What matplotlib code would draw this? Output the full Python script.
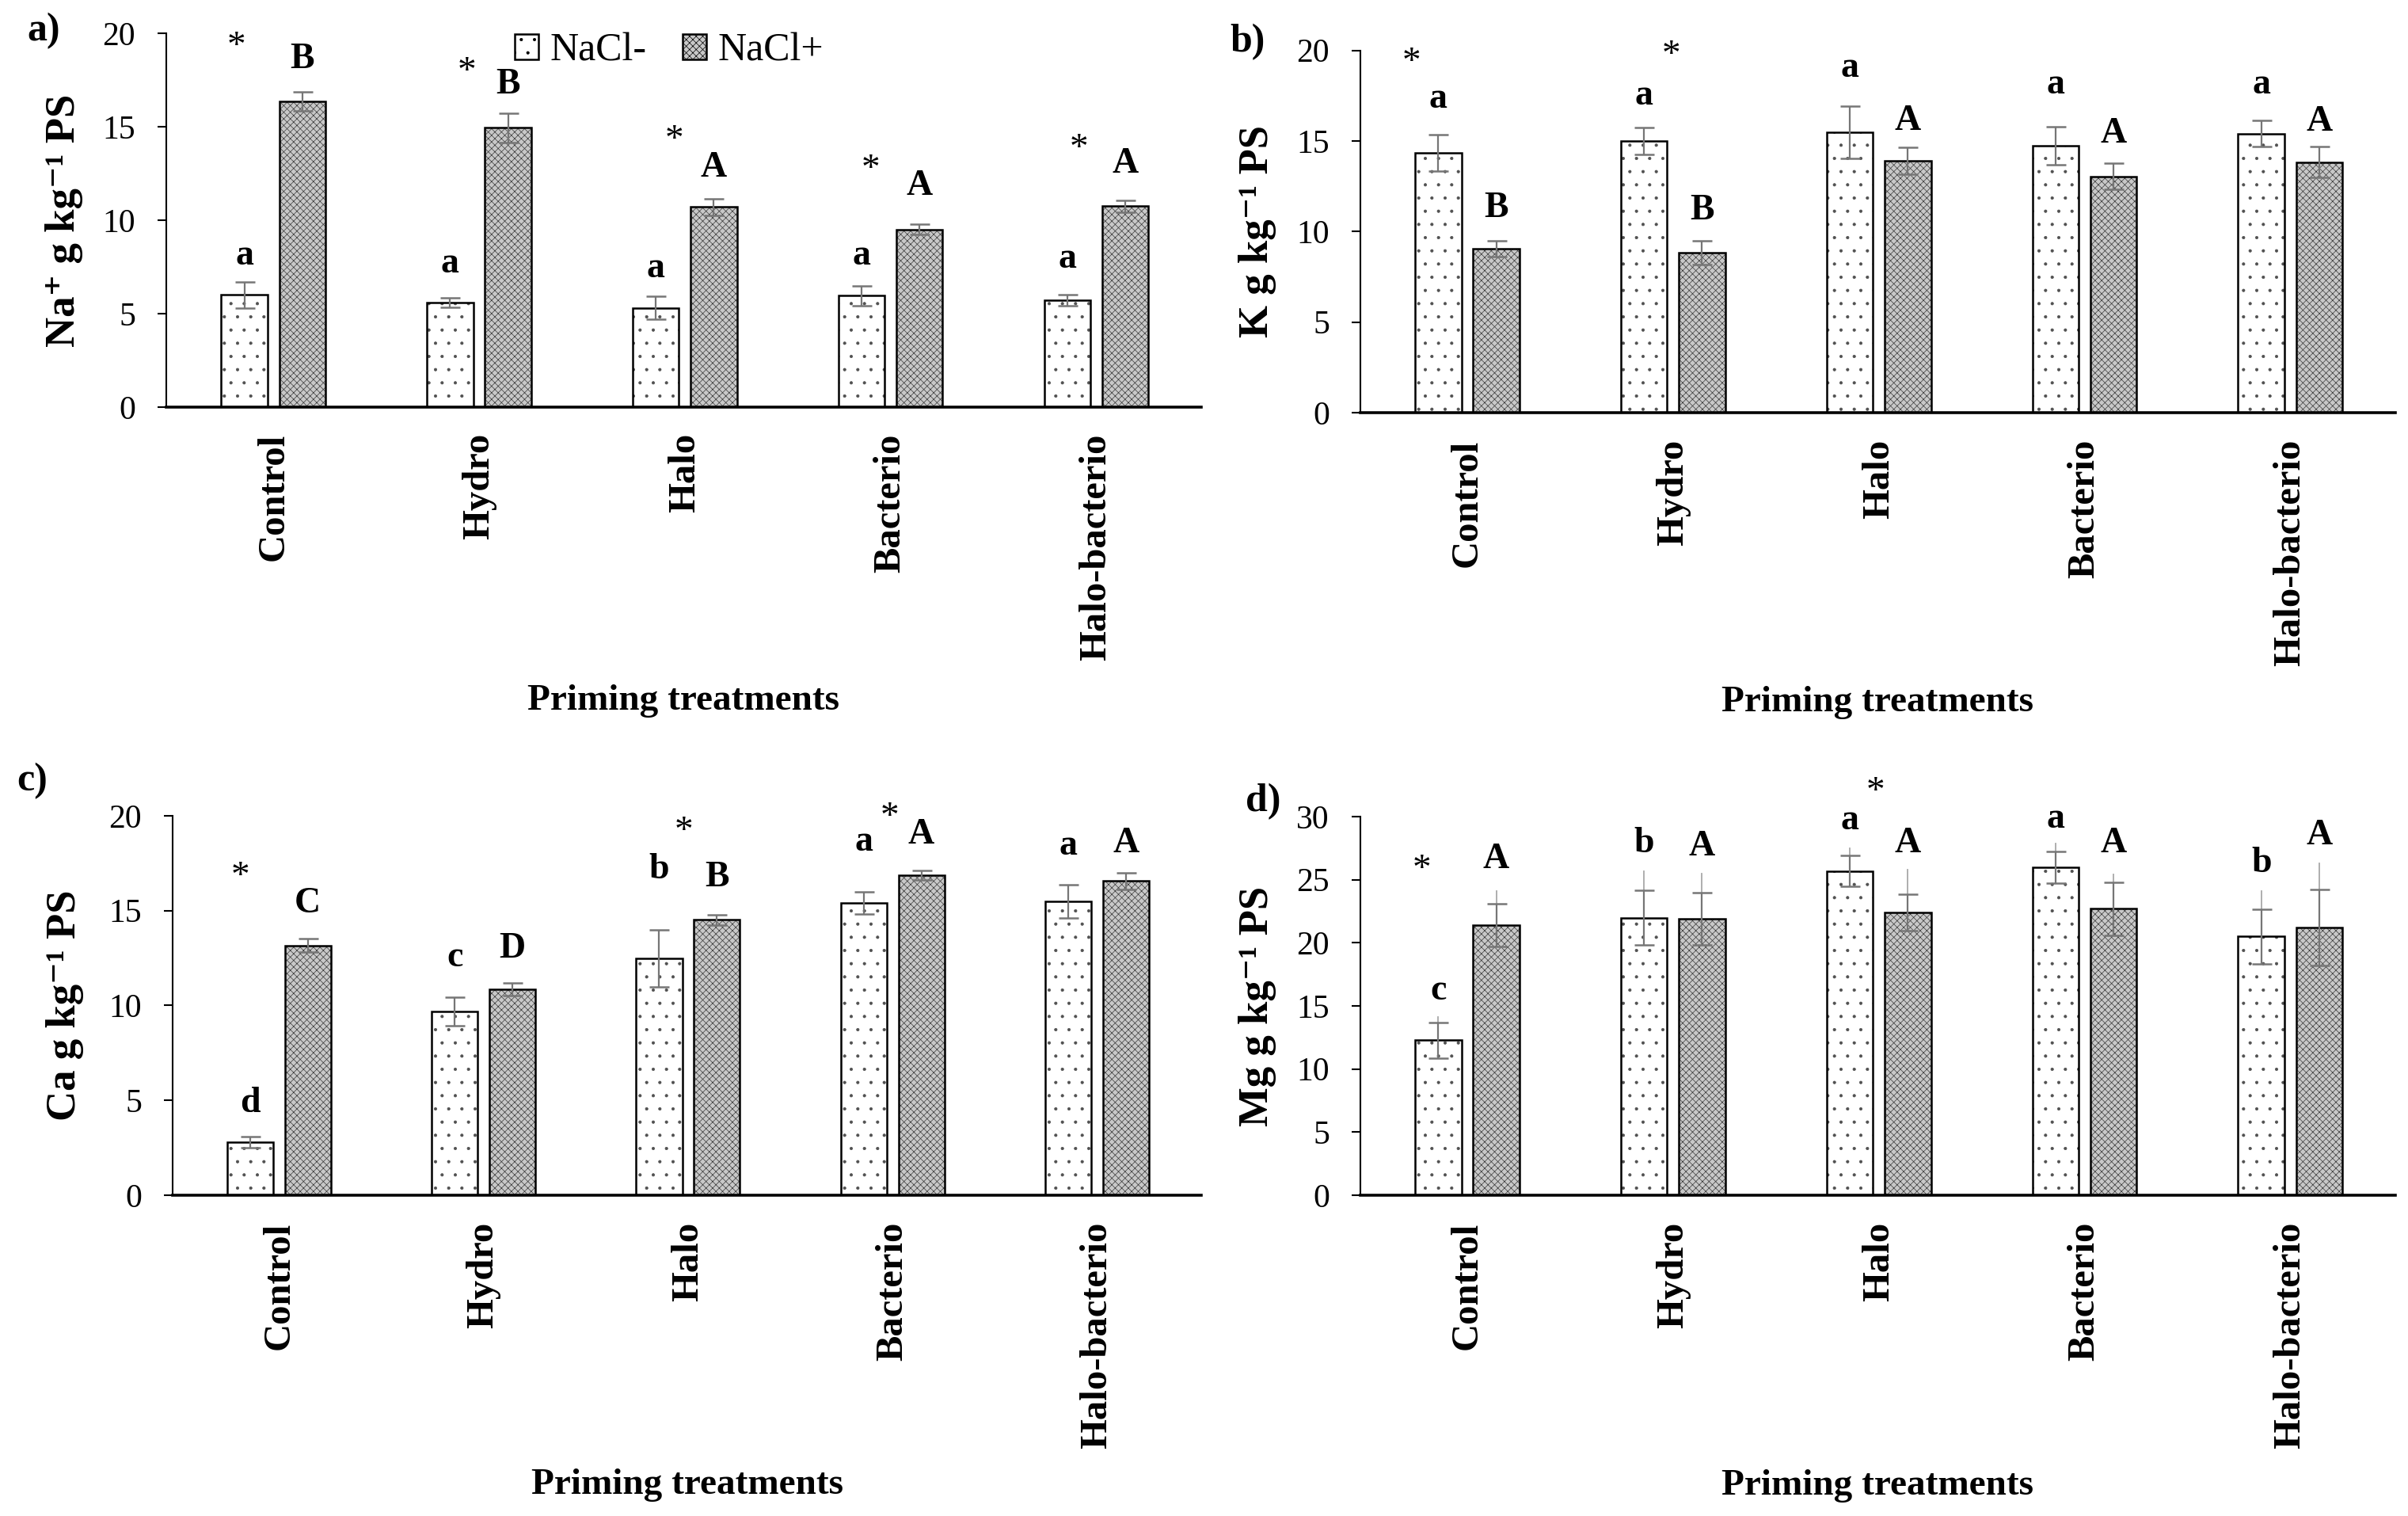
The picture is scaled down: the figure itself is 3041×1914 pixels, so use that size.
import numpy as np
import matplotlib.pyplot as plt
from matplotlib.patches import Patch

plt.rcParams['font.family'] = ['Liberation Serif', 'DejaVu Serif']
plt.rcParams['hatch.linewidth'] = 0.5

treatments = ['Control', 'Hydro', 'Halo', 'Bacterio', 'Halo-bacterio']

# a) Na+
na_minus = [6.0, 5.6, 5.3, 5.95, 5.72]
na_minus_err = [0.7, 0.26, 0.62, 0.53, 0.28]
na_plus = [16.36, 14.95, 10.7, 9.5, 10.74]
na_plus_err = [0.52, 0.78, 0.44, 0.28, 0.3]
na_minus_let = ['a', 'a', 'a', 'a', 'a']
na_plus_let = ['B', 'B', 'A', 'A', 'A']
na_minus_let_y = [8.1, 7.65, 7.4, 8.1, 7.9]
na_plus_let_y = [18.6, 17.25, 12.8, 11.8, 13.0]
na_star_x = [-0.18, -0.06, -0.05, -0.096, -0.085]
na_star_y = [19.67, 18.3, 14.67, 13.1, 14.2]

# b) K
k_minus = [14.34, 15.0, 15.48, 14.73, 15.4]
k_minus_err = [1.0, 0.74, 1.44, 1.05, 0.73]
k_plus = [9.06, 8.83, 13.9, 13.05, 13.83]
k_plus_err = [0.43, 0.64, 0.73, 0.72, 0.84]
k_minus_let = ['a', 'a', 'a', 'a', 'a']
k_plus_let = ['B', 'B', 'A', 'A', 'A']
k_minus_let_y = [17.3, 17.5, 19.0, 18.1, 18.1]
k_plus_let_y = [11.3, 11.14, 16.1, 15.4, 16.06]
k_star_x = [-0.27, -0.01, None, None, None]
k_star_y = [19.7, 20.1, None, None, None]

# c) Ca
ca_minus = [2.79, 9.67, 12.48, 15.4, 15.48]
ca_minus_err = [0.3, 0.75, 1.5, 0.58, 0.88]
ca_plus = [13.17, 10.84, 14.52, 16.87, 16.56]
ca_plus_err = [0.35, 0.34, 0.27, 0.26, 0.43]
ca_minus_let = ['d', 'c', 'b', 'a', 'a']
ca_plus_let = ['C', 'D', 'B', 'A', 'A']
ca_minus_let_y = [4.85, 12.54, 17.15, 18.6, 18.4]
ca_plus_let_y = [15.37, 12.97, 16.76, 19.0, 18.55]
ca_star_x = [-0.19, None, -0.02, -0.015, None]
ca_star_y = [17.15, None, 19.55, 20.3, None]

# d) Mg
mg_minus = [12.28, 22.0, 25.7, 26.0, 20.5]
mg_minus_err = [1.4, 2.15, 1.2, 1.25, 2.15]
mg_minus_top = [14.1, 25.65, 27.5, 27.9, 24.1]
mg_plus = [21.4, 21.9, 22.4, 22.7, 21.2]
mg_plus_err = [1.7, 2.05, 1.45, 2.1, 3.0]
mg_plus_top = [24.1, 25.5, 25.8, 25.4, 26.3]
mg_minus_let = ['c', 'b', 'a', 'a', 'b']
mg_plus_let = ['A', 'A', 'A', 'A', 'A']
mg_minus_let_y = [16.2, 27.9, 29.7, 29.8, 26.3]
mg_plus_let_y = [26.6, 27.6, 27.9, 27.9, 28.5]
mg_star_x = [-0.22, None, -0.015, None, None]
mg_star_y = [26.35, None, 32.5, None, None]

fig = plt.figure(figsize=(30.41, 19.14), dpi=100)

x = np.arange(len(treatments))
w = 0.225
off = 0.141
err_color = '#767676'


def draw_panel(rect, minus, minus_err, plus, plus_err, minus_let, plus_let,
               minus_let_y, plus_let_y, star_x, star_y, ylabel, ymax,
               label_x, xlabel_y, minus_top=None, plus_top=None):
    ax = fig.add_axes(rect)
    # fill + hatch first (hatch colour follows edgecolor), then black outline
    ax.bar(x - off, minus, w, color='white', edgecolor='#505050',
           linewidth=0, hatch='.', zorder=2)
    ax.bar(x + off, plus, w, color='#c8c8c8', edgecolor='#383838',
           linewidth=0, hatch='xxxx', zorder=2)
    ax.bar(x - off, minus, w, fill=False, edgecolor='black', linewidth=1.8, zorder=2.5)
    ax.bar(x + off, plus, w, fill=False, edgecolor='black', linewidth=1.8, zorder=2.5)
    if minus_top is not None:
        # lighter extended whiskers in panel d
        for xs, v, e, t in zip(x - off, minus, minus_err, minus_top):
            ax.plot([xs, xs], [v - e, t], color='#a8a8a8', lw=1.3, zorder=3)
        for xs, v, e, t in zip(x + off, plus, plus_err, plus_top):
            ax.plot([xs, xs], [v - e, t], color='#a8a8a8', lw=1.3, zorder=3)
    ax.errorbar(x - off, minus, yerr=minus_err, fmt='none', ecolor=err_color,
                elinewidth=1.6, capsize=9, capthick=1.8, zorder=4)
    ax.errorbar(x + off, plus, yerr=plus_err, fmt='none', ecolor=err_color,
                elinewidth=1.6, capsize=9, capthick=1.8, zorder=4)

    for i in range(len(treatments)):
        ax.text(x[i] - off, minus_let_y[i], minus_let[i], ha='center',
                va='center', fontsize=33, fontweight='bold')
        ax.text(x[i] + off, plus_let_y[i], plus_let[i], ha='center',
                va='center', fontsize=33, fontweight='bold')
        if star_x[i] is not None:
            ax.annotate('*', (x[i] + star_x[i], star_y[i]), xytext=(0, -7),
                        textcoords='offset points', ha='center', va='center',
                        fontsize=34, annotation_clip=False)

    ax.set_xlim(-0.52, 4.51)
    ax.set_ylim(0, ymax)
    ax.set_yticks(np.arange(0, ymax + 1, 5))
    ax.set_xticks(x, treatments, rotation=90, fontsize=35, fontweight='bold',
                  va='top')
    ax.tick_params(axis='x', length=0, pad=24)
    ax.tick_params(axis='y', labelsize=30, length=8, width=1.5, pad=20)
    for s in ['top', 'right']:
        ax.spines[s].set_visible(False)
    ax.spines['bottom'].set_linewidth(2.6)
    ax.spines['left'].set_linewidth(1.5)

    ax.set_ylabel(ylabel, fontsize=38, fontweight='bold', va='center')
    ax.yaxis.set_label_coords(label_x, 0.5)
    ax.set_xlabel('Priming treatments', fontsize=34, fontweight='bold',
                  va='center')
    ax.xaxis.set_label_coords(0.5, xlabel_y)
    return ax


ax_a = draw_panel([0.0691, 0.7315, 0.4297, 0.2466], na_minus, na_minus_err,
                  na_plus, na_plus_err, na_minus_let, na_plus_let,
                  na_minus_let_y, na_plus_let_y, na_star_x, na_star_y,
                  'Na⁺ g kg⁻¹ PS', 20, -0.099, -0.786)
handles = [Patch(facecolor='white', edgecolor='black', linewidth=1.8, hatch='.'),
           Patch(facecolor='#c8c8c8', edgecolor='black', linewidth=1.8, hatch='xxxx')]
ax_a.legend(handles, ['NaCl-', 'NaCl+'], loc='center',
            bbox_to_anchor=(0.486, 0.953), ncol=2, frameon=False, fontsize=36,
            handlelength=0.6, handleheight=0.6, handletextpad=0.3,
            columnspacing=0.9)

draw_panel([0.5649, 0.7278, 0.4298, 0.2390], k_minus, k_minus_err,
           k_plus, k_plus_err, k_minus_let, k_plus_let,
           k_minus_let_y, k_plus_let_y, k_star_x, k_star_y,
           'K g kg⁻¹ PS', 20, -0.0995, -0.80)

draw_panel([0.0717, 0.2116, 0.4272, 0.2503], ca_minus, ca_minus_err,
           ca_plus, ca_plus_err, ca_minus_let, ca_plus_let,
           ca_minus_let_y, ca_plus_let_y, ca_star_x, ca_star_y,
           'Ca g kg⁻¹ PS', 20, -0.105, -0.764)

draw_panel([0.5649, 0.2116, 0.4298, 0.2497], mg_minus, mg_minus_err,
           mg_plus, mg_plus_err, mg_minus_let, mg_plus_let,
           mg_minus_let_y, mg_plus_let_y, mg_star_x, mg_star_y,
           'Mg g kg⁻¹ PS', 30, -0.0995, -0.767,
           minus_top=mg_minus_top, plus_top=mg_plus_top)

# panel letters
fig.text(55 / 3041, 1 - 39 / 1914, 'a)', fontsize=36, fontweight='bold', ha='center', va='center')
fig.text(1576 / 3041, 1 - 53 / 1914, 'b)', fontsize=36, fontweight='bold', ha='center', va='center')
fig.text(41 / 3041, 1 - 986 / 1914, 'c)', fontsize=36, fontweight='bold', ha='center', va='center')
fig.text(1595 / 3041, 1 - 1012 / 1914, 'd)', fontsize=36, fontweight='bold', ha='center', va='center')

fig.savefig('out.png', dpi=100)
